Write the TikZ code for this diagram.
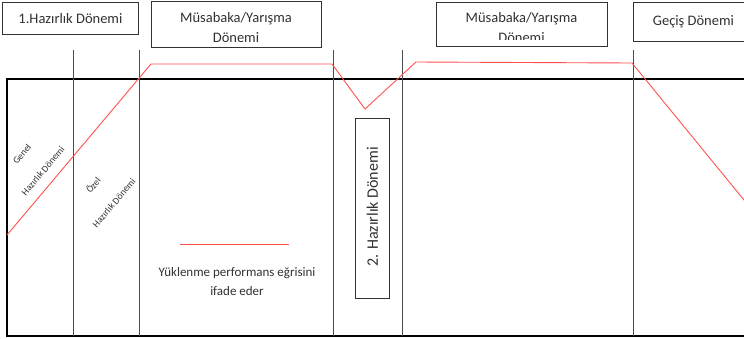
\documentclass[tikz,border=0pt]{standalone}
\usepackage{fontspec}
\setmainfont{Carlito}
\definecolor{curvered}{RGB}{255,80,80}
\definecolor{inkgray}{RGB}{50,50,50}
\begin{document}
\begin{tikzpicture}[x=1pt,y=-1pt,
  periodbox/.style={draw=inkgray, line width=0.9pt, fill=white, inner sep=0pt,
    align=center, text=inkgray, font=\fontsize{14.5}{18}\selectfont},
  titletext/.style={text=inkgray, align=center, inner sep=0pt, font=\fontsize{14.5}{19.5}\selectfont},
  divider/.style={draw=black!70, line width=1pt},
  frame/.style={draw=black, line width=1.6pt},
  curve/.style={draw=curvered, line width=0.9pt},
  smalllabel/.style={text=inkgray, inner sep=0pt, rotate=50, font=\fontsize{9.5}{11}\selectfont},
  legendtext/.style={text=inkgray, align=center, inner sep=0pt, font=\fontsize{13}{19}\selectfont}]
\useasboundingbox (0,0) rectangle (744,338);
\clip (0,0) rectangle (744,338);

% outer frame of the chart
\coordinate (ftl) at (7,79);
\coordinate (fbl) at (7,336);
\draw[frame] (760,79) -- (ftl) -- (fbl) -- (760,336);

% period dividers
\foreach \x/\n in {73/a,139/b,333/c,402/d,633/e} {
  \coordinate (\n top) at (\x,50);
  \coordinate (\n bot) at (\x,336);
  \draw[divider] (\n top) -- (\n bot);
}

% period titles
\node[periodbox, anchor=north west, minimum width=136pt, minimum height=32pt] (prep1) at (2,2) {1.Hazırlık Dönemi};
\node[periodbox, anchor=north west, minimum width=120pt, minimum height=39pt] (trans) at (633,2) {Geçiş Dönemi};

% first competition title
\node[periodbox, anchor=north west, minimum width=170pt, minimum height=46pt] (comp1) at (151,1) {};
\node[titletext] (comp1text) at (236,27.5) {Müsabaka/Yarışma\\Dönemi};

% second competition title, its second line cut off inside the box
\node[periodbox, anchor=north west, minimum width=171pt, minimum height=44pt] (comp2) at (436,2) {};
\begin{scope}
  \clip (437,3) rectangle (606,39);
  \node[titletext] (comp2text) at (521.5,27.5) {Müsabaka/Yarışma\\Dönemi};
\end{scope}

% second preparation period, upright box with rotated text
\node[periodbox, anchor=north west, minimum width=34pt, minimum height=180pt] (prep2) at (355,118) {};
\node[text=inkgray, rotate=90, inner sep=0pt, font=\fontsize{16}{19}\selectfont] (prep2text) at (372.5,207) {2. Hazırlık Dönemi};

% sub-period labels
\node[smalllabel] (gen) at (22,154) {Genel};
\node[smalllabel] (genprep) at (43,171) {Hazırlık Dönemi};
\node[smalllabel] (spec) at (93,185) {Özel};
\node[smalllabel] (specprep) at (114,203) {Hazırlık Dönemi};

% load / performance curve
\coordinate (c0) at (7,235);
\coordinate (c1) at (151,64);
\coordinate (c2) at (332,64);
\coordinate (c3) at (365,109);
\coordinate (c4) at (416,62);
\coordinate (c5) at (632,63);
\coordinate (c6) at (744,200);
\coordinate (c7) at (760,219.6);
\draw[curve] (c0) -- (c1) -- (c2) -- (c3) -- (c4) -- (c5) -- (c6) -- (c7);

% legend
\coordinate (lg0) at (180,244.5);
\coordinate (lg1) at (289,244.5);
\draw[curve, line width=1pt] (lg0) -- (lg1);
\node[legendtext] (legend) at (237,282) {Yüklenme performans eğrisini\\ifade eder};
\end{tikzpicture}
\end{document}
